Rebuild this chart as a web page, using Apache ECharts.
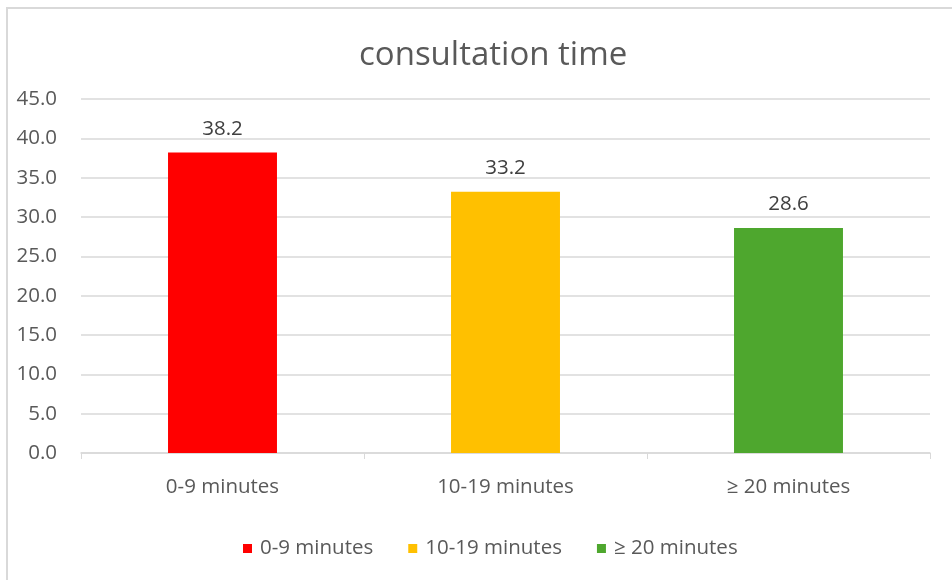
<!DOCTYPE html>
<html><head><meta charset="utf-8">
<script src="https://cdn.jsdelivr.net/npm/echarts@6/dist/echarts.min.js"></script>
<style>html,body{margin:0;padding:0;background:#fff}#c{width:952px;height:580px}</style>
</head><body><div id="c"></div>
<script>
const categories = ['0-9 minutes', '10-19 minutes', '≥ 20 minutes'];
const values = [38.2, 33.2, 28.6];
const colors = ['#FF0000', '#FFC000', '#4EA72E'];
const yTicks = { min: 0, max: 45, interval: 5 };
const font = '"Open Sans", "Liberation Sans", sans-serif';

const chart = echarts.init(document.getElementById('c'), null, { renderer: 'canvas' });
const series = categories.map((name, i) => ({
  name: name,
  type: 'bar',
  stack: 'all',
  barWidth: '38.5%',
  itemStyle: { color: colors[i] },
  label: {
    show: true, position: 'top', distance: 13,
    color: '#404040', fontSize: 20.5, fontFamily: font,
    formatter: p => p.value == null ? '' : Number(p.value).toFixed(1)
  },
  data: categories.map((c, j) => j === i ? values[i] : null)
}));

chart.setOption({
  animation: false,
  title: {
    text: 'consultation time', left: 354, top: 34,
    textStyle: { color: '#595959', fontSize: 33, fontWeight: 'normal', fontFamily: font }
  },
  graphic: [{
    type: 'rect', shape: { x: 7, y: 8, width: 1000, height: 700 },
    style: { fill: 'none', stroke: '#D9D9D9', lineWidth: 2 }, silent: true
  }],
  legend: {
    bottom: 16, left: 238, itemWidth: 9, itemHeight: 9, itemGap: 35,
    icon: 'rect',
    textStyle: { color: '#595959', fontSize: 20.5, fontFamily: font, padding: [0, 0, 0, 3] }
  },
  grid: { left: 81, right: 22, top: 99, bottom: 127 },
  xAxis: {
    type: 'category', data: categories,
    axisLine: { lineStyle: { color: '#D9D9D9', width: 1.5 } },
    axisTick: { show: true, length: 6, lineStyle: { color: '#D9D9D9' } },
    axisLabel: { color: '#595959', fontSize: 20.5, fontFamily: font, margin: 24 }
  },
  yAxis: {
    type: 'value', min: yTicks.min, max: yTicks.max, interval: yTicks.interval,
    axisLine: { show: false }, axisTick: { show: false },
    splitLine: { lineStyle: { color: '#D9D9D9', width: 1.5 } },
    axisLabel: { color: '#595959', fontSize: 20.5, fontFamily: font, margin: 24,
      formatter: v => v.toFixed(1) }
  },
  series: series
});
</script></body></html>
